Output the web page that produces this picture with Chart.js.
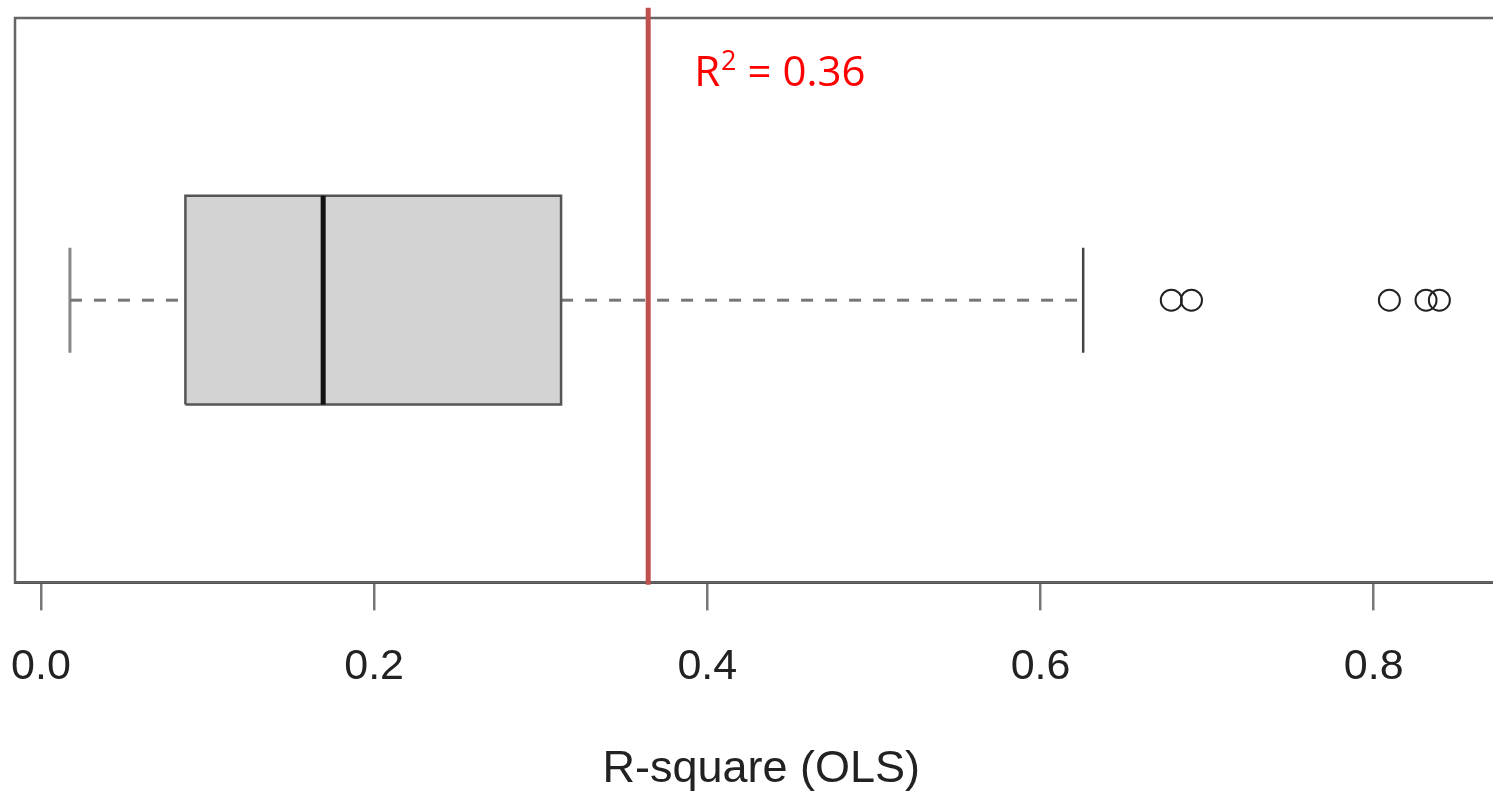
<!DOCTYPE html>
<html>
<head>
<meta charset="utf-8">
<script src="https://cdn.jsdelivr.net/npm/chart.js@4.4.1/dist/chart.umd.min.js"></script>
<style>
  html, body { margin: 0; padding: 0; background: #fff; overflow: hidden; }
  #wrap { width: 1493px; height: 797px; overflow: hidden; position: relative; }
  #inner { position: absolute; left: -40px; top: 0; width: 1560px; height: 797px; }
</style>
</head>
<body>
<div id="wrap"><div id="inner"><canvas id="myChart"></canvas></div></div>
<script>
// datos
const tickValues = [0.0, 0.2, 0.4, 0.6, 0.8];
const quartiles = [0.0867, 0.1694, 0.3122]; // q1, mediana, q3
const whiskers = [0.0174, 0.6256];
const outliers = [0.6785, 0.6906, 0.8094, 0.8314, 0.8394];
const refValue = [0.3645];
const refLabel = ['R', '2', '= 0.36'];
const axisTitle = 'R-square (OLS)';

// posicion vertical de la caja (eje y de 0 a 1)
const mid = 0.5;
const boxHalf = 0.185;
const capHalf = 0.093;

const [q1, med, q3] = quartiles;

const frame = {
  id: 'frame',
  beforeDatasetsDraw(chart) {
    const { ctx, chartArea: a } = chart;
    ctx.save();
    ctx.strokeStyle = '#666';
    ctx.lineWidth = 2.5;
    ctx.strokeRect(a.left, a.top, a.right - a.left, a.bottom - a.top);
    ctx.restore();
  }
};

const refText = {
  id: 'refText',
  afterDatasetsDraw(chart) {
    const { ctx, scales } = chart;
    let x = scales.x.getPixelForValue(refValue[0]) + 46;
    const y = 86;
    ctx.save();
    ctx.fillStyle = '#ff0000';
    ctx.textBaseline = 'alphabetic';
    ctx.font = '42px "Open Sans"';
    ctx.fillText(refLabel[0], x, y);
    x += ctx.measureText(refLabel[0]).width + 1;
    ctx.font = '27px "Open Sans"';
    ctx.fillText(refLabel[1], x, y - 16);
    x += ctx.measureText(refLabel[1]).width + 11;
    ctx.font = '42px "Open Sans"';
    ctx.fillText(refLabel[2], x, y);
    ctx.restore();
  }
};

const ctx = document.getElementById('myChart').getContext('2d');

const lineDs = (data, color, width, extra) => Object.assign({
  type: 'line',
  data: data,
  borderColor: color,
  borderWidth: width,
  pointRadius: 0,
  fill: false,
  tension: 0
}, extra || {});

let myChart = new Chart(ctx, {
  type: 'scatter',
  data: {
    datasets: [
      // linea roja de referencia
      lineDs([{ x: refValue[0], y: -0.004 }, { x: refValue[0], y: 1.018 }], '#c0504d', 5, { clip: false }),
      // puntos atipicos
      {
        type: 'scatter',
        data: outliers.map(v => ({ x: v, y: mid })),
        pointStyle: 'circle',
        pointRadius: 10.5,
        borderWidth: 2,
        borderColor: '#222',
        backgroundColor: 'rgba(0,0,0,0)'
      },
      // mediana
      lineDs([{ x: med, y: mid - boxHalf }, { x: med, y: mid + boxHalf }], '#111', 5),
      // caja
      lineDs([
        { x: q1, y: mid - boxHalf }, { x: q3, y: mid - boxHalf },
        { x: q3, y: mid + boxHalf }, { x: q1, y: mid + boxHalf },
        { x: q1, y: mid - boxHalf }
      ], '#555', 2.5, { fill: 'shape', backgroundColor: '#d3d3d3' }),
      // bigotes
      lineDs([{ x: whiskers[0], y: mid }, { x: q1, y: mid }], '#777', 3, { borderDash: [12, 12] }),
      lineDs([{ x: q3, y: mid }, { x: whiskers[1], y: mid }], '#777', 3, { borderDash: [12, 12] }),
      lineDs([{ x: whiskers[0], y: mid - capHalf }, { x: whiskers[0], y: mid + capHalf }], '#888', 3),
      lineDs([{ x: whiskers[1], y: mid - capHalf }, { x: whiskers[1], y: mid + capHalf }], '#444', 2.5)
    ]
  },
  options: {
    responsive: true,
    maintainAspectRatio: false,
    animation: false,
    events: [],
    layout: { padding: { left: 55, top: 18, right: 10, bottom: 0 } },
    plugins: { legend: { display: false }, tooltip: { enabled: false } },
    scales: {
      x: {
        type: 'linear',
        min: (15 - 41) / 1668.75,
        max: (1510 - 41) / 1668.75,
        afterBuildTicks: scale => { scale.ticks = tickValues.map(v => ({ value: v })); },
        grid: { drawOnChartArea: false, drawTicks: true, tickLength: 28, color: '#777', lineWidth: 2.5 },
        border: { display: true, color: '#333', width: 3 },
        ticks: {
          padding: 31,
          color: '#222',
          maxRotation: 0,
          autoSkip: false,
          font: { family: '"Liberation Sans", Arial', size: 43 },
          callback: v => v.toFixed(1)
        },
        title: {
          display: true,
          text: axisTitle,
          color: '#222',
          font: { family: '"Liberation Sans", Arial', size: 45 },
          padding: { top: 19, bottom: 0 }
        }
      },
      y: {
        type: 'linear',
        display: false,
        min: 0,
        max: 1
      }
    }
  },
  plugins: [frame, refText]
});
</script>
</body>
</html>
